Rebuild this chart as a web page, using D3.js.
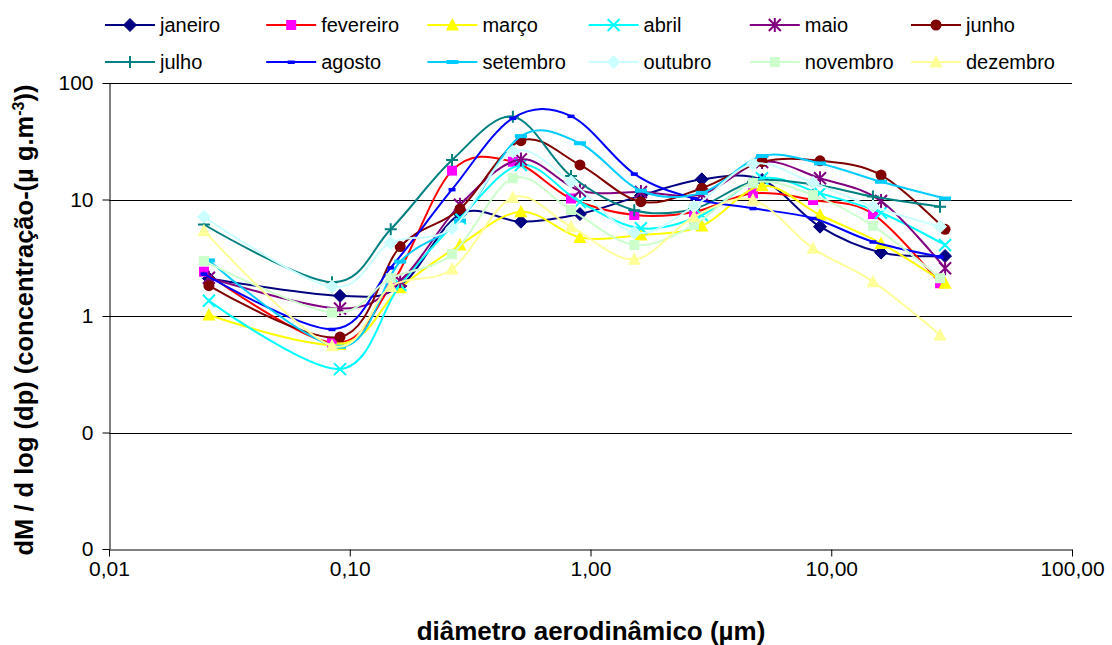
<!DOCTYPE html>
<html>
<head>
<meta charset="utf-8">
<script src="https://cdn.jsdelivr.net/npm/d3@7"></script>
<style>
  body { margin: 0; background: #fff; }
  svg { display: block; }
  text { font-family: "Liberation Sans", Arial, sans-serif; fill: #000; }
</style>
</head>
<body>
<svg id="chart" width="1112" height="645"></svg>
<script>
// Diâmetros de corte (µm) dos estágios do impactador — duas séries de medidas
const diametroA = [0.0248, 0.0844, 0.148, 0.266, 0.476, 0.83, 1.52, 2.69, 4.73, 8.4, 14.9, 28.3];
const diametroB = [0.026, 0.0911, 0.162, 0.287, 0.514, 0.904, 1.62, 2.90, 5.16, 8.98, 16.1, 29.7];

// dM/dlog(dp) por mês (µg.m-3)
const janeiro   = [2.1, 1.49, 1.81, 7.5, 6.45, 7.5, 10.8, 14.9, 14.7, 5.84, 3.5, 3.27];
const fevereiro = [2.4, 0.59, 1.8, 17.7, 21.1, 10.2, 7.36, 7.8, 11.3, 9.9, 7.5, 1.91];
const marco     = [1.02, 0.57, 1.75, 4.07, 7.86, 4.73, 4.96, 5.93, 13.1, 7.36, 4.2, 1.91];
const abril     = [1.35, 0.35, 1.85, 6.9, 19.8, 9.5, 5.66, 7.36, 15.2, 11.3, 7.7, 4.07];
const maio      = [2.13, 1.16, 2.0, 9.0, 22.1, 11.9, 11.6, 11.1, 21.0, 15.2, 9.7, 2.57];
const junho     = [1.82, 0.66, 3.94, 8.3, 32.0, 19.8, 9.57, 12.5, 21.1, 21.5, 16.2, 5.55];
const julho     = [6.1, 1.95, 5.55, 21.8, 51.4, 15.9, 8.1, 8.3, 14.2, 13.5, 10.6, 8.67];
const agosto    = [2.3, 0.77, 2.6, 12.2, 50.0, 52.0, 16.6, 10.2, 8.4, 6.9, 4.34, 3.23];
const setembro  = [3.0, 0.545, 2.93, 6.6, 35.0, 30.4, 11.9, 11.4, 23.6, 20.4, 14.2, 10.2];
const outubro   = [7.1, 1.78, 4.26, 5.66, 25.7, 14.2, 5.19, 8.7, 20.2, 13.9, 8.7, 5.84];
const novembro  = [2.97, 1.07, 2.11, 3.4, 15.2, 8.13, 4.07, 6.04, 13.9, 10.9, 5.93, 2.11];
const dezembro  = [5.4, 0.556, 1.79, 2.53, 10.4, 5.84, 3.07, 7.1, 9.9, 3.81, 1.97, 0.687];

// Eixos
const xTickValues = [0.01, 0.1, 1, 10, 100];
const xTickLabels = ["0,01", "0,10", "1,00", "10,00", "100,00"];
const yTickValues = [0.01, 0.1, 1, 10, 100];
const yTickLabels = ["0", "0", "1", "10", "100"];

const series = [
  { nome: "janeiro",   valores: janeiro,   dp: diametroB, linha: "#000080", fill: "#000080", marcador: "diamond" },
  { nome: "fevereiro", valores: fevereiro, dp: diametroA, linha: "#FF0000", fill: "#FF00FF", marcador: "square" },
  { nome: "março",     valores: marco,     dp: diametroB, linha: "#FFFF00", fill: "#FFFF00", marcador: "triangle" },
  { nome: "abril",     valores: abril,     dp: diametroB, linha: "#00FFFF", fill: "#00FFFF", marcador: "x" },
  { nome: "maio",      valores: maio,      dp: diametroB, linha: "#800080", fill: "#800080", marcador: "star" },
  { nome: "junho",     valores: junho,     dp: diametroB, linha: "#800000", fill: "#800000", marcador: "circle" },
  { nome: "julho",     valores: julho,     dp: diametroA, linha: "#008080", fill: "#008080", marcador: "plus" },
  { nome: "agosto",    valores: agosto,    dp: diametroA, linha: "#0000FF", fill: "#0000FF", marcador: "dashSmall" },
  { nome: "setembro",  valores: setembro,  dp: diametroB, linha: "#00CCFF", fill: "#00CCFF", marcador: "dash" },
  { nome: "outubro",   valores: outubro,   dp: diametroA, linha: "#CCFFFF", fill: "#CCFFFF", marcador: "diamond" },
  { nome: "novembro",  valores: novembro,  dp: diametroA, linha: "#CCFFCC", fill: "#CCFFCC", marcador: "square" },
  { nome: "dezembro",  valores: dezembro,  dp: diametroA, linha: "#FFFF99", fill: "#FFFF99", marcador: "triangle" }
];

const svg = d3.select("#chart");
const plot = { left: 109, right: 1072, top: 83, bottom: 549 };

const x = d3.scaleLog().domain([0.01, 100]).range([plot.left, plot.right]);
const y = d3.scaleLog().domain([0.01, 100]).range([plot.bottom, plot.top]);

// Linhas de grade horizontais
svg.append("g")
  .selectAll("line")
  .data(yTickValues.filter(v => v > 0.01))
  .join("line")
  .attr("x1", plot.left).attr("x2", plot.right)
  .attr("y1", d => Math.round(y(d)) + 0.5).attr("y2", d => Math.round(y(d)) + 0.5)
  .attr("stroke", "#000").attr("stroke-width", 1);

// Eixo Y
const yAxis = svg.append("g")
  .attr("transform", `translate(${plot.left + 0.5},0)`)
  .call(d3.axisLeft(y).tickValues(yTickValues)
    .tickFormat((d, i) => yTickLabels[i]).tickSize(7).tickSizeOuter(0).tickPadding(9));
yAxis.selectAll("text").attr("font-size", 21).style("font-family", '"Liberation Sans", Arial, sans-serif');
yAxis.selectAll("line, path").attr("stroke", "#000");

// Eixo X
const xAxis = svg.append("g")
  .attr("transform", `translate(0,${plot.bottom + 0.5})`)
  .call(d3.axisBottom(x).tickValues(xTickValues)
    .tickFormat((d, i) => xTickLabels[i]).tickSize(7).tickSizeOuter(0).tickPadding(5));
xAxis.selectAll("text").attr("font-size", 21).style("font-family", '"Liberation Sans", Arial, sans-serif');
xAxis.selectAll("line, path").attr("stroke", "#000");

// Títulos dos eixos
svg.append("text")
  .attr("x", 591).attr("y", 640)
  .attr("text-anchor", "middle")
  .attr("font-size", 26).attr("font-weight", "bold")
  .text("diâmetro aerodinâmico (µm)");

const yt = svg.append("text")
  .attr("transform", "translate(33,320) rotate(-90)")
  .attr("text-anchor", "middle")
  .attr("font-size", 25.5).attr("font-weight", "bold");
yt.append("tspan").text("dM / d log (dp) (concentração-(µ g.m");
yt.append("tspan").attr("dy", -9).attr("font-size", 16).text("-3");
yt.append("tspan").attr("dy", 9).text("))");

// Marcadores
function drawMarker(g, tipo, s) {
  const stroke = s.fill;
  switch (tipo) {
    case "diamond":
      g.append("path").attr("d", "M0,-6.5L6.5,0L0,6.5L-6.5,0Z").attr("fill", s.fill).attr("stroke", s.fill);
      break;
    case "square":
      g.append("rect").attr("x", -5).attr("y", -5).attr("width", 10).attr("height", 10).attr("fill", s.fill);
      break;
    case "triangle":
      g.append("path").attr("d", "M0,-7L6.5,5.5L-6.5,5.5Z").attr("fill", s.fill);
      break;
    case "x":
      g.append("path").attr("d", "M-6,-6L6,6M-6,6L6,-6").attr("stroke", stroke).attr("stroke-width", 2).attr("fill", "none");
      break;
    case "star":
      g.append("path").attr("d", "M-6,-6L6,6M-6,6L6,-6M0,-7L0,7").attr("stroke", stroke).attr("stroke-width", 2).attr("fill", "none");
      break;
    case "circle":
      g.append("circle").attr("r", 5.5).attr("fill", s.fill);
      break;
    case "plus":
      g.append("path").attr("d", "M-6,0L6,0M0,-6L0,6").attr("stroke", stroke).attr("stroke-width", 2).attr("fill", "none");
      break;
    case "dashSmall":
      g.append("rect").attr("x", -3.5).attr("y", -1.5).attr("width", 7).attr("height", 3.5).attr("fill", s.fill);
      break;
    case "dash":
      g.append("rect").attr("x", -6).attr("y", -2).attr("width", 12).attr("height", 4).attr("fill", s.fill);
      break;
  }
}

const line = d3.line()
  .x(d => x(d[0]))
  .y(d => y(d[1]))
  .curve(d3.curveCardinal.tension(0));

// Séries
series.forEach(s => {
  const pts = s.dp.map((d, i) => [d, s.valores[i]]);
  const g = svg.append("g");
  g.append("path")
    .attr("d", line(pts))
    .attr("fill", "none")
    .attr("stroke", s.linha)
    .attr("stroke-width", 2);
  pts.forEach(p => {
    const m = g.append("g").attr("transform", `translate(${x(p[0])},${y(p[1])})`);
    drawMarker(m, s.marcador, s);
  });
});

// Legenda
const legend = svg.append("g");
series.forEach((s, i) => {
  const col = i % 6, row = Math.floor(i / 6);
  const x0 = 105 + col * 161.2;
  const yy = row === 0 ? 25 : 62;
  const g = legend.append("g");
  g.append("line").attr("x1", x0).attr("x2", x0 + 50).attr("y1", yy).attr("y2", yy)
    .attr("stroke", s.linha).attr("stroke-width", 2);
  const m = g.append("g").attr("transform", `translate(${x0 + 25},${yy})`);
  drawMarker(m, s.marcador, s);
  g.append("text").attr("x", x0 + 55).attr("y", yy + 7)
    .attr("font-size", 20).text(s.nome);
});
</script>
</body>
</html>
